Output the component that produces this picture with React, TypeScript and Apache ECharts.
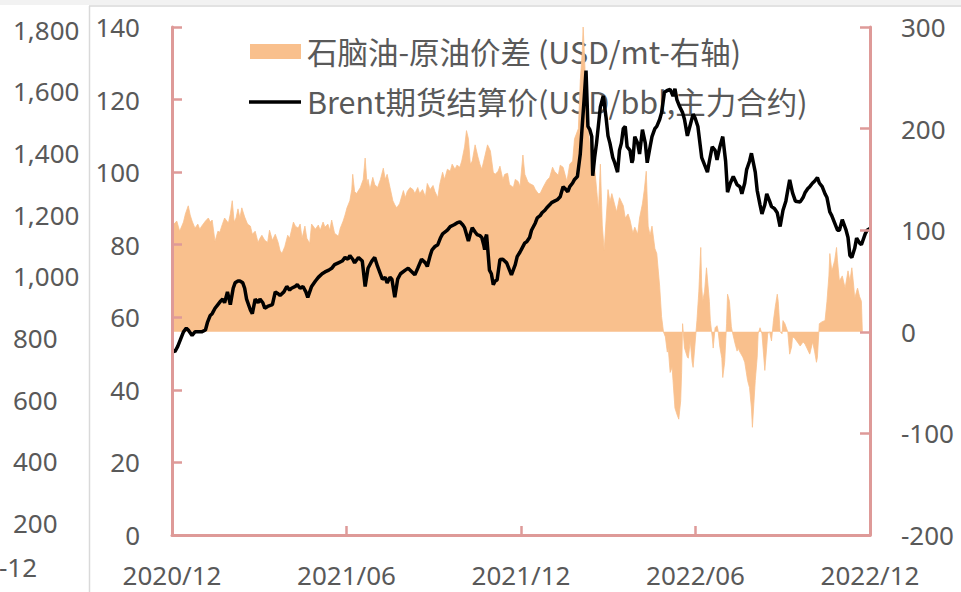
import React, { useEffect, useRef } from "react";
import * as echarts from "echarts";

// x axis: days since 2020/12 (tick every half year)
const xLabels = ["2020/12", "2021/06", "2021/12", "2022/06", "2022/12"];
const legendLabels = [
  "石脑油-原油价差 (USD/mt-右轴)",
  "Brent期货结算价(USD/bbl,主力合约)",
];
const strayLabel = "-12";

const brentDays = [
  0, 3, 6, 9, 12, 15, 17, 21, 24, 26, 31, 35, 37, 40, 42, 45, 48, 51, 53, 55,
  58, 61, 64, 66, 69, 71, 74, 76, 78, 82, 84, 87, 90, 92, 95, 97, 100, 105, 108, 111,
  113, 117, 120, 123, 125, 129, 131, 134, 137, 140, 142, 146, 150, 153, 157, 160, 164, 167, 170, 174,
  178, 181, 184, 186, 189, 191, 195, 199, 202, 205, 209, 212, 215, 220, 223, 225, 228, 230, 233, 236,
  239, 244, 247, 251, 254, 257, 261, 265, 267, 270, 272, 275, 278, 281, 283, 288, 291, 295, 298, 301,
  304, 306, 310, 312, 314, 317, 319, 322, 324, 326, 327, 328, 329, 332, 334, 336, 338, 340, 343, 346,
  350, 353, 355, 359, 361, 364, 366, 369, 371, 374, 376, 380, 382, 385, 387, 390, 392, 395, 397, 400,
  403, 406, 409, 411, 414, 416, 419, 421, 424, 427, 429, 431, 433, 435, 437, 439, 440, 442, 444, 448,
  451, 454, 456, 458, 461, 463, 466, 468, 470, 472, 474, 476, 479, 481, 482, 484, 487, 489, 492, 495,
  497, 500, 502, 505, 507, 510, 512, 515, 518, 521, 524, 526, 528, 531, 534, 536, 539, 542, 545, 547,
  550, 554, 557, 560, 562, 565, 568, 570, 573, 576, 579, 581, 584, 587, 591, 594, 596, 599, 601, 604,
  606, 610, 612, 615, 617, 620, 622, 625, 627, 630, 633, 636, 639, 642, 644, 646, 649, 652, 657, 660,
  662, 665, 667, 670, 672, 675, 677, 680, 683, 685, 688, 690, 693, 696, 698, 701, 705, 707, 709, 711,
  714, 716, 719, 721, 725, 727, 730,
];
const brentValues = [
  51, 50.5, 52, 54, 56, 57, 56.5, 55, 56, 56, 56, 56.5, 58.5, 60.5, 61, 62.5, 63.5, 64.5, 65, 64,
  67, 63.5, 68, 69.5, 70, 70, 69.5, 68, 65, 62, 61, 65, 64, 65, 64, 62.5, 63, 63.5, 67, 66.5,
  66, 67, 68.5, 67.5, 68, 68.5, 69, 68, 68.5, 67, 65.5, 68.5, 70, 71, 72, 72.5, 73, 73.5, 74.5, 75,
  75.5, 76.5, 76, 77, 76, 75, 76.5, 75.5, 68.5, 73.5, 75.5, 76.5, 74, 70.5, 71, 69.5, 71, 70.5, 65.5, 70.5,
  72, 73, 73.5, 72.5, 71.7, 73.5, 76, 75, 74, 77, 78.6, 79.5, 80, 82, 83, 84, 85, 85.5, 86, 86.3,
  85.5, 84.7, 81, 83, 84.7, 83.5, 82.8, 82.5, 82, 80, 78.6, 82, 82.8, 73, 72, 69, 70, 70.3, 75.9, 76,
  75, 73, 71.7, 74.5, 76.7, 78, 79, 80.5, 80.8, 82, 84, 86, 87.4, 88, 88.8, 89.5, 90.2, 91, 91.6, 92,
  92.4, 93.2, 96, 95.5, 94.6, 96, 97, 98, 98.8, 105, 112.6, 120, 128, 112.6, 111.7, 109.8, 99, 104, 108, 118,
  121, 115, 110, 108, 104, 102.6, 100, 106, 108, 112, 112.6, 107, 106, 102.6, 103.4, 109.8, 108, 105, 111.7, 108,
  102.6, 107, 109.8, 112, 112.6, 114.5, 116.4, 122, 122.5, 122.8, 121, 123, 120, 118, 116.4, 114.5, 110, 113, 116, 115,
  112.6, 104, 102, 100, 103, 107, 106, 103.4, 107, 109.8, 103, 94.5, 97, 98.8, 96.5, 96, 94, 97, 100.7, 103,
  105.2, 100, 95, 91, 88.5, 91, 94, 92, 90.5, 90, 88.8, 85, 89.5, 92, 95, 97.9, 94.3, 92, 91.8, 93,
  94.3, 95.5, 96, 97, 97.5, 98.5, 97, 96, 94, 93, 89, 88, 86, 84, 84, 86.9, 84, 82, 77, 76.5,
  79, 81.8, 80.5, 80, 83, 84, 84.5,
];

const spreadDays = [
  0, 2, 5, 8, 12, 14, 17, 19, 21, 24, 27, 29, 31, 35, 38, 40, 42, 45, 48, 50,
  52, 55, 59, 61, 63, 65, 67, 69, 71, 73, 76, 79, 82, 84, 87, 90, 92, 94, 97, 100,
  102, 105, 108, 111, 113, 115, 118, 121, 123, 127, 129, 132, 134, 136, 139, 141, 144, 146, 150, 153,
  155, 158, 160, 163, 165, 167, 170, 174, 176, 179, 181, 183, 186, 188, 189, 191, 193, 197, 200, 202,
  204, 205, 207, 210, 212, 215, 218, 221, 223, 225, 228, 231, 233, 235, 238, 242, 244, 246, 249, 252,
  254, 257, 259, 262, 265, 267, 270, 273, 275, 278, 280, 283, 285, 288, 291, 293, 296, 298, 301, 303,
  306, 308, 310, 312, 314, 317, 320, 322, 324, 327, 330, 333, 336, 338, 341, 343, 346, 348, 351, 353,
  357, 359, 362, 364, 367, 369, 372, 374, 378, 380, 383, 385, 388, 392, 395, 398, 400, 404, 406, 409,
  411, 413, 416, 419, 421, 425, 427, 429, 430, 431, 432, 434, 435, 437, 439, 440, 442, 446, 448, 450,
  452, 453, 455, 456, 458, 460, 463, 465, 468, 472, 474, 477, 479, 482, 484, 487, 489, 492, 494, 496,
  498, 500, 502, 505, 507, 510, 512, 514, 516, 518, 519, 521, 523, 524, 526, 528, 530, 532, 533, 534,
  536, 539, 540, 542, 544, 545, 547, 549, 551, 553, 554, 555, 557, 559, 562, 563, 565, 566, 568, 570,
  571, 573, 575, 576, 578, 580, 581, 583, 585, 586, 589, 591, 592, 594, 597, 599, 602, 604, 606, 607,
  610, 612, 613, 615, 617, 620, 622, 623, 625, 627, 629, 631, 633, 634, 636, 638, 639, 641, 644, 646,
  648, 649, 651, 654, 657, 660, 662, 664, 667, 670, 672, 674, 675, 677, 680, 683, 685, 687, 688, 690,
  691, 693, 695, 696, 698, 701, 704, 707, 709, 711, 713, 714, 716, 717, 719, 721, 722,
];
const spreadValues = [
  100, 106, 109, 99, 108, 116, 124, 115, 109, 102, 106, 101, 104, 109, 112, 108, 110, 89, 99, 98,
  104, 112, 107, 116, 129, 108, 112, 121, 112, 122, 113, 106, 104, 96, 99, 88, 92, 95, 90, 88,
  100, 90, 96, 88, 80, 77, 84, 95, 92, 108, 104, 102, 106, 92, 104, 92, 87, 106, 101, 105,
  100, 108, 103, 106, 100, 110, 97, 94, 102, 109, 115, 122, 129, 140, 155, 138, 136, 142, 150, 171,
  145, 150, 140, 152, 145, 142, 150, 161, 150, 155, 142, 129, 125, 122, 126, 139, 132, 138, 142, 140,
  136, 142, 136, 140, 133, 146, 140, 144, 138, 132, 145, 157, 150, 160, 158, 165, 160, 164, 162, 168,
  182, 198, 190, 165, 168, 184, 172, 165, 160, 172, 184, 178, 157, 155, 158, 163, 150, 155, 156, 145,
  142, 150, 148, 143, 174, 155, 148, 146, 144, 140, 136, 136, 142, 149, 152, 162, 158, 154, 164, 162,
  155, 148, 165, 168, 190, 200, 247, 275, 300, 280, 257, 195, 205, 181, 190, 155, 162, 120, 165, 105,
  80, 95, 125, 140, 128, 136, 125, 118, 132, 124, 112, 116, 110, 97, 103, 96, 112, 126, 140, 158,
  104, 95, 104, 82, 77, 45, 15, 0, -5, -20, -16, -40, -35, -48, -75, -81, -86, -68, -40, 8,
  -16, -25, -26, -9, -30, -35, -12, 11, 40, 83, 45, 30, 40, 63, 30, 11, -5, -16, 4, 6,
  2, -15, -26, -45, -30, 8, 37, 30, 5, 0, -12, -19, -16, -20, -25, -30, -48, -55, -75, -94,
  -48, -25, -2, 4, -2, -38, -15, -2, 0, -9, 11, 25, 37, 30, 0, -2, 11, 8, 0, -22,
  -15, -5, -6, -10, -14, -10, -12, -16, -22, -10, -19, -30, -25, 8, 10, 11, 30, 55, 77, 60,
  63, 70, 83, 70, 50, 55, 43, 60, 50, 63, 45, 33, 40, 43, 35, 30, 0,
];

const axisColor = "#DE9A98";
const textColor = "#595959";
const orange = "#F9C08D";
const numFont = "'Noto Sans', sans-serif";
const cjkFont = "'Noto Sans CJK SC', 'Noto Sans', sans-serif";

export default function App() {
  const ref = useRef<HTMLDivElement>(null);

  useEffect(() => {
    if (!ref.current) return;
    const chart = echarts.init(ref.current, undefined, { renderer: "svg" });
    const brentData = brentDays.map((d, i) => [d, brentValues[i]]);
    const spreadData = spreadDays.map((d, i) => [d, spreadValues[i]]);

    const axisLine = { show: true, lineStyle: { color: axisColor, width: 3 } };
    const axisTick = (len: number) => ({
      show: true,
      inside: true,
      length: len,
      lineStyle: { color: axisColor, width: 2.5 },
    });
    const label = { color: textColor, fontSize: 26, fontFamily: numFont };

    chart.setOption({
      animation: false,
      backgroundColor: "#ffffff",
      grid: [
        { left: 172, right: 91, top: 27, bottom: 57 },
        { left: 89, width: 10, top: 29.5, bottom: 69 },
      ],
      xAxis: [
        {
          type: "value",
          gridIndex: 0,
          min: 0,
          max: 730,
          interval: 182.5,
          z: 5,
          axisLine,
          axisTick: axisTick(9),
          splitLine: { show: false },
          axisLabel: {
            ...label,
            margin: 28,
            lineHeight: 24,
            showMinLabel: true,
            showMaxLabel: true,
            formatter: (v: number) => xLabels[Math.round(v / 182.5)] ?? "",
          },
        },
        { type: "value", gridIndex: 1, show: false, min: 0, max: 1 },
      ],
      yAxis: [
        {
          type: "value",
          gridIndex: 0,
          min: 0,
          max: 140,
          interval: 20,
          position: "left",
          z: 5,
          axisLine,
          axisTick: axisTick(10),
          splitLine: { show: false },
          axisLabel: { ...label, margin: 32 },
        },
        {
          type: "value",
          gridIndex: 0,
          min: -200,
          max: 300,
          interval: 100,
          position: "right",
          z: 5,
          axisLine,
          axisTick: axisTick(10),
          splitLine: { show: false },
          axisLabel: { ...label, margin: 31 },
        },
        {
          type: "value",
          gridIndex: 1,
          min: 200,
          max: 1800,
          interval: 200,
          position: "left",
          axisLine: { show: false },
          axisTick: { show: false },
          splitLine: { show: false },
          axisLabel: {
            ...label,
            align: "left",
            margin: 76,
            formatter: (v: number) => v.toLocaleString("en-US"),
          },
        },
      ],
      series: [
        {
          name: legendLabels[0],
          type: "line",
          xAxisIndex: 0,
          yAxisIndex: 1,
          data: spreadData,
          symbol: "none",
          lineStyle: { width: 0.8, color: orange },
          areaStyle: { color: orange, opacity: 1 },
          z: 2,
        },
        {
          name: legendLabels[1],
          type: "line",
          xAxisIndex: 0,
          yAxisIndex: 0,
          data: brentData,
          symbol: "none",
          lineStyle: { width: 3.5, color: "#000000" },
          z: 3,
        },
      ],
      graphic: [
        { type: "rect", z: 0, shape: { x: 0, y: 0, width: 961, height: 5 }, style: { fill: "#F2F2F2" } },
        { type: "line", z: 0, shape: { x1: 89, y1: 6, x2: 961, y2: 6 }, style: { stroke: "#D9D9D9", lineWidth: 1.5 } },
        { type: "line", z: 0, shape: { x1: 89.5, y1: 6, x2: 89.5, y2: 592 }, style: { stroke: "#D9D9D9", lineWidth: 1.5 } },
        { type: "rect", z: 1, shape: { x: 250, y: 44, width: 51, height: 15 }, style: { fill: orange } },
        { type: "line", z: 1, shape: { x1: 249, y1: 102, x2: 301, y2: 102 }, style: { stroke: "#000000", lineWidth: 3.5 } },
        {
          type: "text",
          z: 1,
          x: 307,
          y: 51,
          style: { text: legendLabels[0], fill: textColor, fontSize: 30.5, fontFamily: cjkFont, verticalAlign: "middle" },
        },
        {
          type: "text",
          z: 1,
          x: 307,
          y: 101,
          style: { text: legendLabels[1], fill: textColor, fontSize: 30.5, fontFamily: cjkFont, verticalAlign: "middle" },
        },
        {
          type: "text",
          z: 1,
          x: -1,
          y: 567,
          style: { text: strayLabel, fill: textColor, fontSize: 26, fontFamily: numFont, verticalAlign: "middle" },
        },
      ],
    });

    return () => chart.dispose();
  }, []);

  return (
    <div
      ref={ref}
      style={{ position: "fixed", left: 0, top: 0, width: 961, height: 592, background: "#fff" }}
    />
  );
}
